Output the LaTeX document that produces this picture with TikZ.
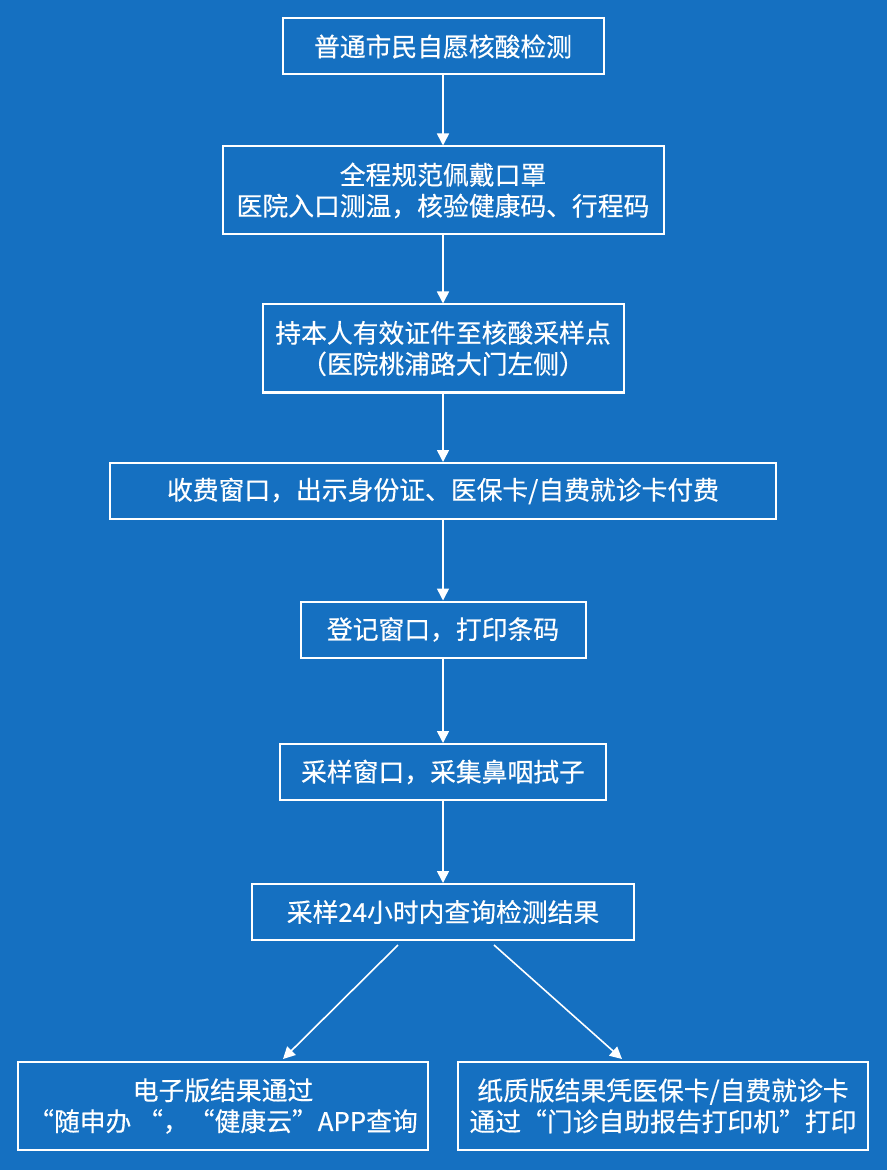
\documentclass[tikz,border=0pt]{standalone}
\usepackage{fontspec}
\setmainfont{Noto Sans CJK SC}
\newfontfamily\boxfont{Noto Sans CJK SC}[FakeBold=0.4]
\usetikzlibrary{arrows.meta, calc}
\definecolor{cbg}{HTML}{1570C1}
\tikzset{
  every picture/.style={x=0.5pt, y=-0.5pt, line width=1pt},
  stepbox/.style={draw=white, text=white, align=center, inner sep=0pt,
    minimum width=#1*0.5pt, font=\boxfont\fontsize{12.9pt}{15.5pt}\selectfont},
  one/.style={minimum height=28pt},
  two/.style={minimum height=44pt},
  arrow/.style={-{Triangle[length=6pt, width=6pt]}, draw=white, line width=0.8pt},
}
\begin{document}
\begin{tikzpicture}
  \fill[cbg] (0,0) rectangle (887,1170);
  \useasboundingbox (0,0) rectangle (887,1170);
  \node[stepbox=321, one] (b1) at (443,46.5) {普通市民自愿核酸检测};
  \node[stepbox=441, two] (b2) at (443,190.5) {全程规范佩戴口罩\\医院入口测温，核验健康码、行程码};
  \node[stepbox=361, two] (b3) at (443,348.5) {持本人有效证件至核酸采样点\\（医院桃浦路大门左侧）};
  \node[stepbox=666, one] (b4) at (443,491) {收费窗口，出示身份证、医保卡/自费就诊卡付费};
  \node[stepbox=285, one] (b5) at (443,629.5) {登记窗口，打印条码};
  \node[stepbox=326, one] (b6) at (443,772) {采样窗口，采集鼻咽拭子};
  \node[stepbox=382, one] (b7) at (443,912) {采样24小时内查询检测结果};
  \node[stepbox=410, two] (b8) at (223,1106) {电子版结果通过\\“随申办 “，“健康云”APP查询};
  \node[stepbox=410, two] (b9) at (663,1106) {纸质版结果凭医保卡/自费就诊卡\\通过“门诊自助报告打印机”打印};
  \foreach \a/\b in {b1/b2, b2/b3, b3/b4, b4/b5, b5/b6, b6/b7}
    \draw[arrow] (\a.south) -- (\b.north);
  \draw[arrow] ($(b7.south)+(-45,4)$) -- ($(b8.north)+(60,-2)$);
  \draw[arrow] ($(b7.south)+(51,4)$) -- ($(b9.north)+(-41,-2)$);
\end{tikzpicture}
\end{document}
